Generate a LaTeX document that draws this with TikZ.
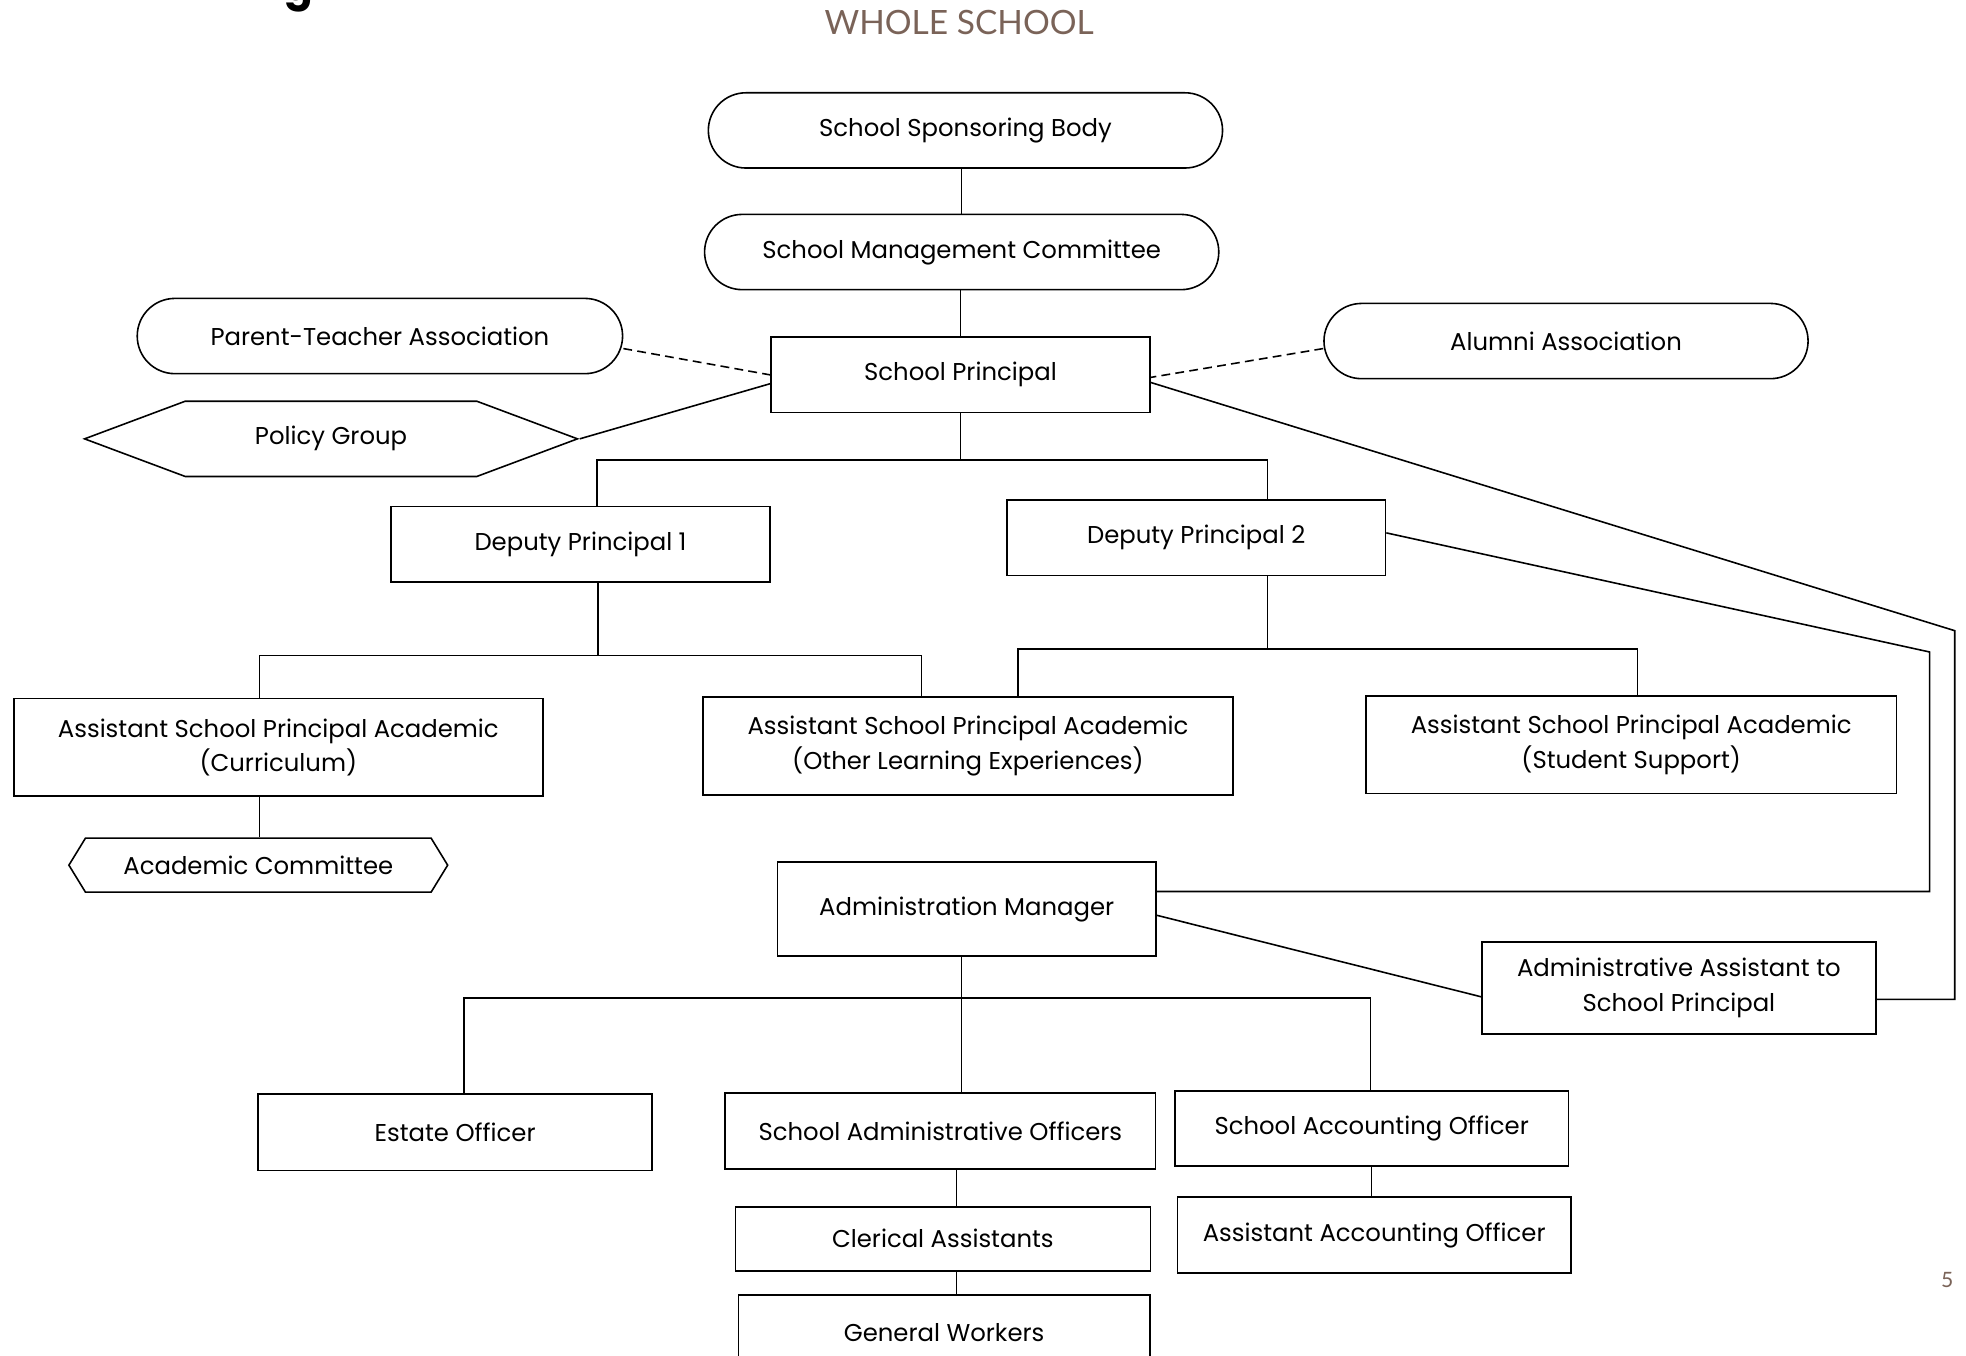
\documentclass[tikz,border=0pt]{standalone}
\usepackage{fontspec}
\setmainfont{Poppins}
\newfontfamily\titlefont{Lato}
\usetikzlibrary{shapes.symbols,shapes.misc,calc}
\definecolor{titlebrown}{RGB}{122,99,88}
\tikzset{
  box/.style={draw, line width=0.9pt, rectangle, inner sep=0pt, align=center},
  oval/.style={draw, line width=0.9pt, rounded rectangle, inner sep=0pt, minimum height=1.5cm},
  hexa/.style={draw, line width=0.9pt, signal, signal to=west and east, inner sep=0pt},
  link/.style={line width=0.9pt},
}
\begin{document}
\begin{tikzpicture}[x=0.025cm, y=-0.025cm, font=\fontsize{13.8}{19.5}\selectfont]
  \useasboundingbox (0,0) rectangle (1568,1081);
  % heading
  \node[font=\bfseries\fontsize{24}{24}\selectfont, anchor=base] (cut) at (238,0) {g};
  \node[titlebrown, font=\titlefont\fontsize{19}{19}\selectfont] (title) at (765,18) {WHOLE SCHOOL};
  \node[titlebrown, font=\titlefont\fontsize{12}{12}\selectfont] (pagenum) at (1553,1021) {5};
  % top of the tree
  \node[oval, minimum width=10.25cm] (ssb) at (770,104) {School Sponsoring Body};
  \node[oval, minimum width=10.25cm] (smc) at (767,201) {School Management Committee};
  \node[oval, minimum width=9.675cm] (pta) at (303,268) {Parent-Teacher Association};
  \node[oval, minimum width=9.65cm] (alumni) at (1249,272) {Alumni Association};
  \node[box, minimum width=7.55cm, minimum height=1.5cm] (sp) at (766,299) {School Principal};
  \node[hexa, minimum width=9.825cm, minimum height=1.5cm, signal pointer angle=41] (policy) at (264,350) {Policy Group};
  % deputies and assistants
  \node[box, minimum width=7.55cm, minimum height=1.5cm] (dp1) at (463,434) {Deputy Principal 1};
  \node[box, minimum width=7.55cm, minimum height=1.5cm] (dp2) at (954,429) {Deputy Principal 2};
  \node[box, minimum width=10.55cm, minimum height=1.95cm] (aspc) at (222,596) {Assistant School Principal Academic\\(Curriculum)};
  \node[box, minimum width=10.575cm, minimum height=1.95cm] (aspole) at (772,595) {Assistant School Principal Academic\\(Other Learning Experiences)};
  \node[box, minimum width=10.575cm, minimum height=1.95cm] (aspss) at (1301,594) {Assistant School Principal Academic\\(Student Support)};
  \node[hexa, minimum width=7.55cm, minimum height=1.075cm, signal pointer angle=117] (acad) at (206,690) {Academic Committee};
  % administration
  \node[box, minimum width=7.55cm, minimum height=1.875cm] (am) at (771,725) {Administration Manager};
  \node[box, minimum width=7.85cm, minimum height=1.825cm] (aasp) at (1339,788) {Administrative Assistant to\\School Principal};
  \node[box, minimum width=7.85cm, minimum height=1.525cm] (estate) at (363,903) {Estate Officer};
  \node[box, minimum width=8.575cm, minimum height=1.525cm] (sao) at (750,902) {School Administrative Officers};
  \node[box, minimum width=7.85cm, minimum height=1.5cm] (saco) at (1094,900) {School Accounting Officer};
  \node[box, minimum width=8.275cm, minimum height=1.275cm] (clerical) at (752,988) {Clerical Assistants};
  \node[box, minimum width=7.85cm, minimum height=1.525cm] (aao) at (1096,985) {Assistant Accounting Officer};
  \node[box, minimum width=8.2cm, minimum height=1.5cm] (gw) at (753,1063) {General Workers};

  % connectors
  \draw[link] (smc.north) -- (smc.north |- ssb.south);
  \draw[link] (sp.north) -- (sp.north |- smc.south);
  \draw[link, dash pattern=on 5pt off 3pt] ($(pta.east)+(0,10)$) -- (sp.west);
  \draw[link, dash pattern=on 5pt off 3pt] ($(alumni.west)+(0,6)$) -- ($(sp.east)+(0,2)$);
  \draw[link] (policy.east) -- ($(sp.west)+(0,7)$);

  \draw[link] (sp.south) -- ++(0,37) coordinate (busA);
  \draw[link] ($(dp1.north)+(13,0)$) |- (busA) -| ($(dp2.north)+(57,0)$);

  \draw[link] ($(dp1.south)+(14,0)$) -- ++(0,58) coordinate (busB);
  \draw[link] ($(aspc.north)+(-15,0)$) |- (busB) -| ($(aspole.north)+(-37,0)$);

  \draw[link] ($(dp2.south)+(57,0)$) -- ++(0,58) coordinate (busC);
  \draw[link] ($(aspole.north)+(40,0)$) |- (busC) -| ($(aspss.north)+(5,0)$);

  \draw[link] ($(aspc.south)+(-15,0)$) -- ($(acad.north)+(1,0)$);

  \coordinate (rightA) at (1559,503);
  \draw[link] ($(sp.east)+(0,6)$) -- (rightA) |- ($(aasp.east)+(0,9)$);
  \coordinate (rightB) at (1539,520);
  \draw[link] ($(dp2.east)+(0,-4)$) -- (rightB) |- ($(am.east)+(0,-14)$);
  \draw[link] ($(am.east)+(0,5)$) -- ($(aasp.west)+(0,7)$);

  \draw[link] ($(am.south)+(-4,0)$) -- ($(sao.north)+(17,0)$);
  \coordinate (busD) at ($(am.south)+(-4,33)$);
  \draw[link] ($(estate.north)+(7,0)$) |- (busD) -| ($(saco.north)+(-1,0)$);

  \draw[link] ($(sao.south)+(13,0)$) -- ($(clerical.north)+(11,0)$);
  \draw[link] ($(clerical.south)+(11,0)$) -- ($(gw.north)+(10,0)$);
  \draw[link] (saco.south) -- (saco.south |- aao.north);
\end{tikzpicture}
\end{document}
